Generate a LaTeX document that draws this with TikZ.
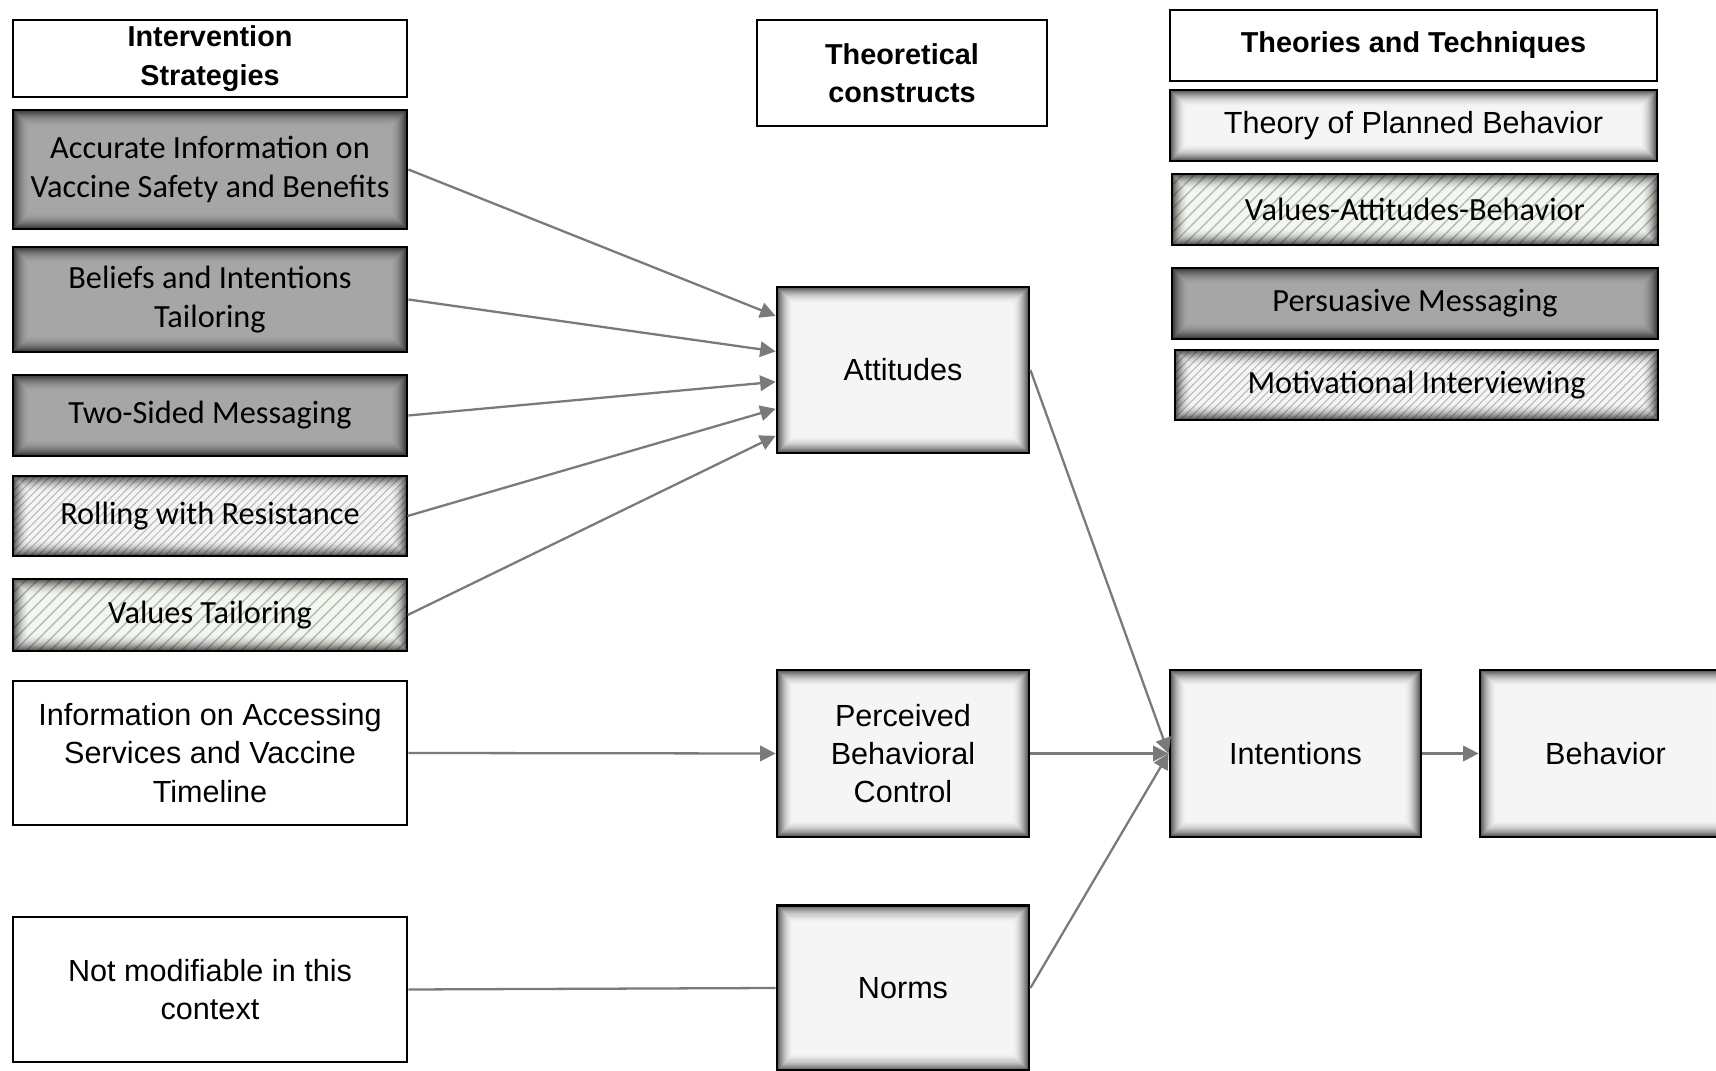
\documentclass[tikz,border=0pt]{standalone}
\usepackage{fontspec}
\setmainfont{Liberation Sans}
\newfontfamily\calib{Carlito}
\usetikzlibrary{arrows.meta,patterns.meta,calc}

\definecolor{linkgray}{RGB}{122,122,122}
\definecolor{darkfill}{RGB}{166,166,166}
\definecolor{lightfill}{RGB}{245,245,245}
\definecolor{hatchgray}{RGB}{185,185,185}
\definecolor{hatchgreen}{RGB}{170,196,156}

\tikzset{
	glow/.style={path picture={
		\foreach \k in {1,...,16}{
			\pgfmathsetmacro{\op}{0.6*(1-(\k-1)/16)^2}
			\draw[black, opacity=\op, line width=0.3pt]
				([shift={(\k*0.3pt,-\k*0.3pt)}]path picture bounding box.north west) rectangle
				([shift={(-\k*0.3pt,\k*0.3pt)}]path picture bounding box.south east);}
	}}
}

\begin{document}
\begin{tikzpicture}
	[
		x=0.1mm, y=-0.1mm,
		every node/.style={align=center, inner sep=0pt},
		link/.style={draw=linkgray, line width=0.65pt, -{Triangle[length=4.4pt,width=4.4pt]}},
		line/.style={draw=linkgray, line width=0.65pt}
	]
	\tikzstyle{Head} = [rectangle, draw=black, line width=0.8pt, fill=white, font=\fontsize{8.2}{10.9}\selectfont\bfseries]
	\tikzstyle{Plain} = [rectangle, draw=black, line width=0.8pt, fill=white, font=\fontsize{8.7}{10.9}\selectfont]
	\tikzstyle{Construct} = [rectangle, draw=black, line width=0.8pt, fill=lightfill, glow, font=\fontsize{8.7}{10.9}\selectfont]
	\tikzstyle{Dark} = [rectangle, draw=black, line width=0.8pt, fill=darkfill, glow, font=\calib\fontsize{9.2}{11.1}\selectfont]
	\tikzstyle{Light} = [Dark, fill=lightfill]
	\tikzstyle{GrayHatch} = [Dark, fill=none, preaction={fill=lightfill}, pattern={Lines[angle=45,distance=1.5pt,line width=0.3pt]}, pattern color=hatchgray]
	\tikzstyle{GreenHatch} = [Dark, fill=none, preaction={fill=lightfill}, pattern={Lines[angle=45,distance=2.4pt,line width=0.4pt]}, pattern color=hatchgreen]

	\useasboundingbox (0,0) rectangle (1716,1071);

	% intervention strategies
	\node [Head, minimum width=39.4mm, minimum height=7.7mm] (hstr) at (210,58.5) {Intervention\\Strategies};
	\node [Dark, minimum width=39.4mm, minimum height=11.9mm] (acc) at (210,169.5) {Accurate Information on\\Vaccine Safety and Benefits};
	\node [Dark, minimum width=39.4mm, minimum height=10.5mm] (bel) at (210,299.5) {Beliefs and Intentions\\Tailoring};
	\node [Dark, minimum width=39.4mm, minimum height=8.1mm] (two) at (210,415.5) {Two-Sided Messaging};
	\node [GrayHatch, minimum width=39.4mm, minimum height=8mm] (rol) at (210,516) {Rolling with Resistance};
	\node [GreenHatch, minimum width=39.4mm, minimum height=7.2mm] (val) at (210,615) {Values Tailoring};
	\node [Plain, minimum width=39.4mm, minimum height=14.4mm] (acs) at (210,753) {Information on Accessing\\Services and Vaccine\\Timeline};
	\node [Plain, minimum width=39.4mm, minimum height=14.5mm] (nmd) at (210,989.5) {Not modifiable in this\\context};

	% theoretical constructs
	\node [Head, minimum width=29mm, minimum height=10.6mm] (hcon) at (902,73) {Theoretical\\constructs};
	\node [Construct, minimum width=25.2mm, minimum height=16.6mm] (att) at (903,370) {Attitudes};
	\node [Construct, minimum width=25.2mm, minimum height=16.7mm] (pbc) at (903,753.5) {Perceived\\Behavioral\\Control};
	\node [Construct, minimum width=25.2mm, minimum height=16.5mm] (nrm) at (903,988) {Norms};
	\node [Construct, minimum width=25.1mm, minimum height=16.7mm] (int) at (1295.5,753.5) {Intentions};
	\node [Construct, minimum width=25.1mm, minimum height=16.7mm] (beh) at (1605.5,753.5) {Behavior};

	% theories and techniques
	\node [Head, minimum width=48.7mm, minimum height=7.1mm] (htec) at (1413.5,45.5) {Theories and Techniques};
	\node [Light, font=\fontsize{8.7}{10.9}\selectfont, minimum width=48.7mm, minimum height=7.1mm] (tpb) at (1413.5,125.5) {Theory of Planned Behavior};
	\node [GreenHatch, minimum width=48.6mm, minimum height=7.1mm] (vab) at (1415,209.5) {Values-Attitudes-Behavior};
	\node [Dark, minimum width=48.6mm, minimum height=7.1mm] (pm) at (1415,303.5) {Persuasive Messaging};
	\node [GrayHatch, minimum width=48.3mm, minimum height=7mm] (mi) at (1416.5,385) {Motivational Interviewing};

	% connectors
	\foreach \src/\f in {acc/0.18, bel/0.39, two/0.57, rol/0.73, val/0.89}
		\draw [link] (\src.east) -- ($(att.north west)!\f!(att.south west)$);
	\draw [link] (acs.east) -- (pbc.west);
	\draw [line] (nmd.east) -- (nrm.west);
	\draw [link] (att.east) -- (int.west);
	\draw [link] (pbc.east) -- (int.west);
	\draw [link] (nrm.east) -- (int.west);
	\draw [link] (int.east) -- (beh.west);
\end{tikzpicture}
\end{document}
